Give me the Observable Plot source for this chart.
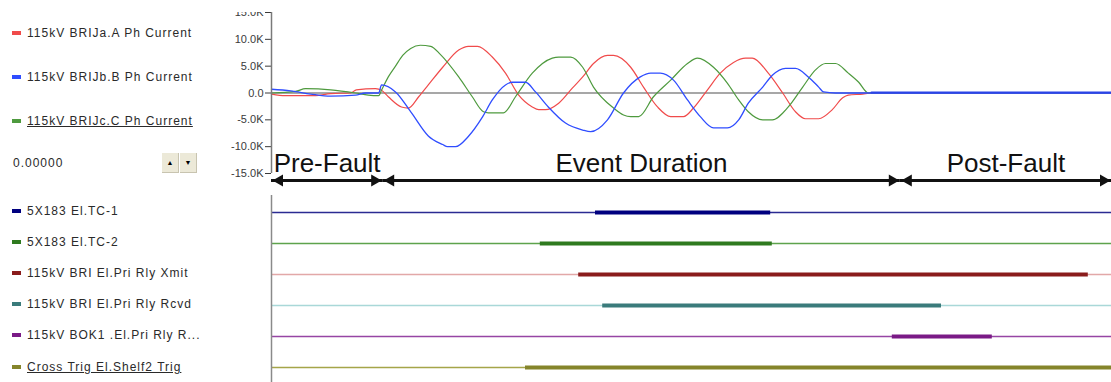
<!DOCTYPE html>
<html>
<head>
<meta charset="utf-8">
<script src="https://cdn.jsdelivr.net/npm/d3@7"></script>
<script src="https://cdn.jsdelivr.net/npm/@observablehq/plot@0.6"></script>
<style>
  html, body { margin: 0; padding: 0; background: #fff; }
  #root { position: relative; width: 1111px; height: 382px; overflow: hidden; font-family: "Liberation Sans", Arial, sans-serif; }
  .lg { position: absolute; left: 12px; font-size: 12px; letter-spacing: 1px; color: #2a2a2a; white-space: nowrap; line-height: 14px; }
  .lg .sw { display: inline-block; width: 9px; height: 4px; margin-right: 6px; vertical-align: middle; position: relative; top: -1px; }
  .lg.u .tx { text-decoration: underline; }
  .btn { position: absolute; top: 153px; width: 16px; height: 19px; background: #ece9d8; border-right: 1px solid #c8c4b0; border-bottom: 1px solid #c8c4b0; font-size: 7px; line-height: 19px; text-align: center; color: #000; }
  #top { position: absolute; left: 0; top: 0; }
  #bottom { position: absolute; left: 0; top: 190px; }
</style>
</head>
<body>
<div id="root">
  <div id="top"></div>
  <div id="bottom"></div>
</div>
<script>
// ---------- data ----------
// time axis in ms
const timeDomain = [0, 105];
const yDomain = [-15, 15];           // kA
const yTicks = [-15, -10, -5, 0, 5, 10, 15];

const phaseNames  = ["Pre-Fault", "Event Duration", "Post-Fault"];
const phaseStarts = [0, 13.9, 78.6];
const phaseEnds   = [13.9, 78.6, 105];

const waveNames  = ["115kV BRIJa.A Ph Current", "115kV BRIJb.B Ph Current", "115kV BRIJc.C Ph Current"];
const waveColors = ["#f04b4b", "#2f4dff", "#4e9a3e"];

// phase A (red)
const aT = [0, 1.75, 5.5, 7.4, 9.9, 10.6, 13.0, 13.75, 14.6, 16.25, 17.1, 18.4, 19.6, 21.4, 23.4, 24.6, 25.75, 27.6, 29.25, 30.9, 32.6, 33.4, 34.25, 35.9, 37.6, 38.9, 40.25, 42.0, 42.75, 44.9, 46.5, 48.25, 49.9, 51.5, 52.75, 54.5, 56.1, 57.75, 59.25, 60.1, 62.1, 63.9, 65.5, 66.75, 68.4, 70.1, 71.4, 72.1, 73.9, 74.9, 80, 90, 105];
const aV = [-0.2, -0.5, -0.5, -0.1, 0.0, 0.6, 0.8, 0.5, -0.7, -2.6, -2.8, -0.7, 1.5, 4.8, 8.0, 8.7, 8.7, 6.7, 3.7, -0.4, -2.6, -3.1, -3.1, -1.9, 0.9, 3.0, 5.5, 7.0, 7.0, 4.8, 1.1, -2.6, -4.4, -4.4, -2.8, 0.6, 3.7, 5.7, 6.5, 6.5, 3.7, 0.0, -3.5, -4.8, -4.8, -3.1, -0.9, -0.4, -0.2, 0.0, 0.0, 0.0, 0.0];
// phase B (blue)
const bT = [0, 2.4, 4.9, 7.4, 10.5, 11.75, 13.4, 13.75, 15.5, 17.5, 19.6, 21.4, 22.0, 23.0, 24.6, 26.4, 27.6, 29.25, 30.1, 31.75, 33.0, 34.6, 36.75, 38.9, 39.9, 42.0, 44.0, 46.1, 47.4, 48.6, 50.25, 52.0, 53.6, 55.25, 57.0, 58.4, 59.6, 61.4, 62.6, 64.25, 65.5, 67.1, 68.4, 69.0, 70.5, 75, 85, 95, 105];
const bV = [0.7, 0.4, -0.2, -0.6, -0.4, 0.0, 0.0, 1.5, 0.2, -3.7, -8.0, -9.6, -10.0, -10.0, -8.1, -4.4, -1.3, 1.5, 2.0, 2.0, 0.2, -2.6, -5.6, -6.9, -7.2, -5.0, 0.0, 3.0, 3.7, 3.7, 2.4, -1.3, -4.4, -6.5, -6.5, -5.0, -1.9, 1.1, 3.3, 4.6, 4.6, 3.0, 1.1, 0.2, 0.0, 0.0, 0.0, 0.0, 0.0];
// phase C (green)
const cT = [0, 3.0, 4.25, 7.4, 10.5, 12.1, 13.4, 13.75, 14.6, 15.5, 16.4, 17.4, 18.6, 19.9, 21.1, 23.4, 25.1, 26.5, 27.1, 29.0, 30.5, 32.6, 35.1, 35.9, 37.4, 38.9, 40.25, 42.75, 44.0, 44.9, 45.9, 47.75, 49.9, 52.0, 53.25, 55.25, 57.0, 58.4, 59.6, 61.4, 62.6, 64.6, 66.4, 68.0, 69.25, 70.5, 72.1, 73.4, 74.6, 80, 90, 105];
const cV = [0.0, 0.3, 0.8, 0.6, 0.0, -0.4, -0.5, 0.5, 3.0, 5.0, 7.0, 8.3, 8.9, 8.7, 7.2, 3.0, -0.7, -3.5, -3.7, -3.7, -0.7, 3.7, 6.5, 6.7, 6.7, 4.8, 1.1, -2.8, -4.1, -4.4, -4.4, -0.7, 2.4, 5.5, 6.5, 4.8, 1.8, -1.3, -3.5, -5.0, -5.0, -2.6, 1.1, 4.3, 5.5, 5.5, 3.7, 2.0, 0.0, 0.0, 0.0, 0.0];

// digital channels
const chanNames  = ["5X183 El.TC-1", "5X183 El.TC-2", "115kV BRI El.Pri Rly Xmit", "115kV BRI El.Pri Rly Rcvd", "115kV BOK1 .El.Pri Rly R...", "Cross Trig El.Shelf2 Trig"];
const chanOn     = [40.5, 33.6, 38.4, 41.4, 77.6, 31.75];
const chanOff    = [62.4, 62.6, 102.1, 83.75, 90.1, 105];
const chanThick  = ["#00007f", "#2f7a1f", "#8a1c1c", "#3a7b7b", "#7a1a86", "#85852b"];
const chanThin   = ["#2b2b92", "#5ea34c", "#e2a8a8", "#a9d8d8", "#9646a4", "#a5a549"];

// ---------- build ----------
const zip = (T, V) => T.map((t, i) => ({t, v: V[i]}));
const waves = [zip(aT, aV), zip(bT, bV), zip(cT, cV)];
const phases = phaseNames.map((name, i) => ({name, start: phaseStarts[i], end: phaseEnds[i]}));
const channels = chanNames.map((name, i) => ({name, on: chanOn[i], off: chanOff[i], thick: chanThick[i], thin: chanThin[i]}));
const fmt = d => d === 0 ? "0.0" : d.toFixed(1) + "K";
const bottomY = () => yDomain[0];
const postFault = waves[1].filter(d => d.t >= phaseStarts[2] - 8);

const topPlot = Plot.plot({
  width: 1111, height: 190,
  marginLeft: 271, marginRight: 0, marginTop: 12, marginBottom: 17,
  x: {domain: timeDomain, axis: null},
  y: {domain: yDomain, axis: null},
  style: {fontFamily: "'Liberation Sans', Arial, sans-serif", background: "transparent", overflow: "visible"},
  marks: [
    Plot.ruleY([0], {stroke: "#8a8a8a", strokeWidth: 1.6}),
    Plot.line(waves[0], {x: "t", y: "v", stroke: waveColors[0], strokeWidth: 1.2, curve: "monotone-x"}),
    Plot.line(waves[2], {x: "t", y: "v", stroke: waveColors[2], strokeWidth: 1.2, curve: "monotone-x"}),
    Plot.line(waves[1], {x: "t", y: "v", stroke: waveColors[1], strokeWidth: 1.3, curve: "monotone-x"}),
    Plot.line(postFault, {x: "t", y: "v", stroke: "#2a44e8", strokeWidth: 2.2, dy: -0.5}),
    Plot.axisY({ticks: yTicks, tickFormat: fmt, tickSize: 6, tickPadding: 2, fontSize: 11, color: "#3a3a3a"}),
    Plot.ruleX([timeDomain[0]], {stroke: "#7a7a7a", strokeWidth: 1.5}),
    Plot.text(phases, {x: d => (d.start + d.end) / 2, y: bottomY, dy: -2, lineAnchor: "bottom", text: "name", fontSize: 26, fill: "#111"}),
    Plot.ruleY(phases, {x1: "start", x2: "end", y: bottomY, dy: 7, stroke: "#111", strokeWidth: 3}),
    Plot.dot(phases, {x: "start", y: bottomY, dy: 7, dx: 8, symbol: "triangle", r: 4.5, rotate: -90, fill: "#111", stroke: "none"}),
    Plot.dot(phases, {x: "end", y: bottomY, dy: 7, dx: -8, symbol: "triangle", r: 4.5, rotate: 90, fill: "#111", stroke: "none"})
  ]
});
topPlot.style.clipPath = "inset(12px 0 0 0)";
document.getElementById("top").appendChild(topPlot);

const bottomPlot = Plot.plot({
  width: 1111, height: 192,
  marginLeft: 271, marginRight: 0, marginTop: 21, marginBottom: 15,
  x: {domain: timeDomain, axis: null},
  y: {type: "point", domain: chanNames, axis: null, padding: 0},
  color: {type: "identity"},
  style: {background: "transparent", overflow: "visible"},
  marks: [
    Plot.ruleY(channels, {y: "name", stroke: "thin", strokeWidth: 1.6}),
    Plot.ruleY(channels, {y: "name", x1: "on", x2: "off", stroke: "thick", strokeWidth: 4.2}),
    Plot.ruleX([timeDomain[0]], {stroke: "#8a8a8a", strokeWidth: 1.5, insetTop: -16, insetBottom: -15})
  ]
});
document.getElementById("bottom").appendChild(bottomPlot);

// ---------- left legend ----------
const root = document.getElementById("root");
function addLegend(text, color, y, underline) {
  const d = document.createElement("div");
  d.className = "lg" + (underline ? " u" : "");
  d.style.top = (y - 7) + "px";
  d.innerHTML = `<span class="sw" style="background:${color}"></span><span class="tx"></span>`;
  d.querySelector(".tx").textContent = text;
  root.appendChild(d);
}
const waveRows = [33, 77, 121];
waveNames.forEach((n, i) => addLegend(n, waveColors[i], waveRows[i], i === 2));
const chanRows = [211, 242, 273, 304, 335, 367];
chanNames.forEach((n, i) => addLegend(n, chanThick[i], chanRows[i], i === 5));

const val = document.createElement("div");
val.className = "lg";
val.style.left = "13px";
val.style.top = "156px";
val.textContent = "0.00000";
root.appendChild(val);
[["▲", 162], ["▼", 180]].forEach(([g, x]) => {
  const b = document.createElement("div");
  b.className = "btn";
  b.style.left = x + "px";
  b.textContent = g;
  root.appendChild(b);
});
</script>
</body>
</html>
